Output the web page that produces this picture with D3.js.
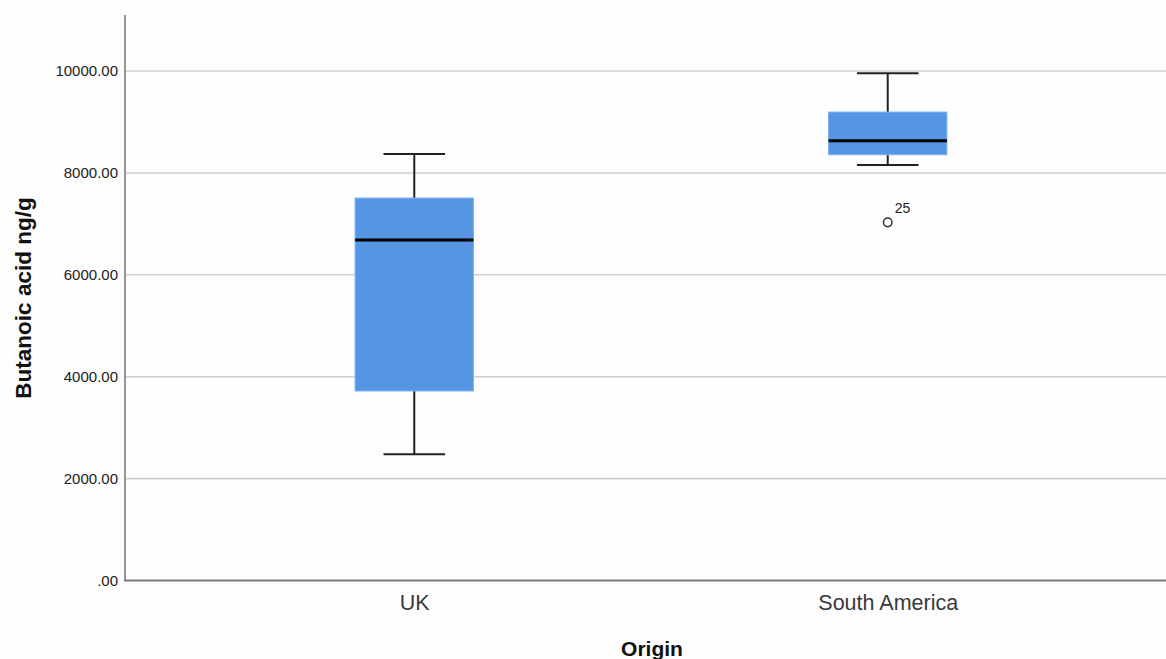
<!DOCTYPE html>
<html>
<head>
<meta charset="utf-8">
<script src="https://cdn.jsdelivr.net/npm/d3@7"></script>
<style>
  html, body { margin: 0; padding: 0; background: #fdfdfd; }
  svg { display: block; }
</style>
</head>
<body>
<svg id="chart" width="1166" height="659"></svg>
<script>
// Butanoic acid concentration by origin — box summary per group
const categories = ["UK", "South America"];
const whiskerLow  = [2480, 8155];
const quartile1   = [3720, 8357];
const medians     = [6683, 8632];
const quartile3   = [7507, 9195];
const whiskerHigh = [8371, 9955];
const outliers    = [{ group: "South America", value: 7030, label: "25" }];
const yTicks      = [0, 2000, 4000, 6000, 8000, 10000];

const svg = d3.select("#chart");
const plotLeft = 125, plotTop = 15, plotBottom = 580.5, plotRight = 1177;
const font = "Liberation Sans, Arial, sans-serif";

const y = d3.scaleLinear().domain([0, 11100]).range([plotBottom, plotTop]);
const x = d3.scalePoint().domain(categories).range([plotLeft, plotRight]).padding(0.611);
const step = x.step();
const boxW = step * 0.25;
const capW = step * 0.13;

// gridlines
svg.append("g")
  .selectAll("line")
  .data(yTicks.filter(d => d > 0))
  .join("line")
  .attr("x1", plotLeft).attr("x2", 1166)
  .attr("y1", d => y(d)).attr("y2", d => y(d))
  .attr("stroke", "#cfcfcf").attr("stroke-width", 1.6);

// y axis
const yAxis = d3.axisLeft(y).tickValues(yTicks).tickSize(0).tickPadding(7)
  .tickFormat(d => d === 0 ? ".00" : d3.format(".2f")(d));
const gy = svg.append("g").attr("transform", `translate(${plotLeft},0)`).call(yAxis);
gy.select(".domain").remove();
gy.selectAll("text")
  .attr("font-family", font)
  .attr("font-size", 15).attr("fill", "#222");

// axis lines
svg.append("line").attr("x1", plotLeft).attr("x2", plotLeft).attr("y1", plotTop).attr("y2", plotBottom)
  .attr("stroke", "#8a8a8a").attr("stroke-width", 1.8);
svg.append("line").attr("x1", plotLeft - 1).attr("x2", 1166).attr("y1", plotBottom).attr("y2", plotBottom)
  .attr("stroke", "#7a7a7a").attr("stroke-width", 1.8);

// x axis labels
const xAxis = d3.axisBottom(x).tickSize(0).tickPadding(14);
const gx = svg.append("g").attr("transform", `translate(0,${plotBottom})`).call(xAxis);
gx.select(".domain").remove();
gx.selectAll("text")
  .attr("font-family", font)
  .attr("font-size", 21.5).attr("fill", "#3a3a3a").attr("font-weight", 300);

// boxes
const groups = svg.append("g").selectAll("g")
  .data(categories.map((c, i) => ({
    c, lo: whiskerLow[i], q1: quartile1[i], med: medians[i], q3: quartile3[i], hi: whiskerHigh[i]
  })))
  .join("g");

groups.append("line")
  .attr("x1", d => x(d.c)).attr("x2", d => x(d.c))
  .attr("y1", d => y(d.hi)).attr("y2", d => y(d.q3))
  .attr("stroke", "#222").attr("stroke-width", 2);
groups.append("line")
  .attr("x1", d => x(d.c)).attr("x2", d => x(d.c))
  .attr("y1", d => y(d.q1)).attr("y2", d => y(d.lo))
  .attr("stroke", "#222").attr("stroke-width", 2);
groups.selectAll(".cap")
  .data(d => [{ c: d.c, v: d.hi }, { c: d.c, v: d.lo }])
  .join("line")
  .attr("x1", d => x(d.c) - capW / 2).attr("x2", d => x(d.c) + capW / 2)
  .attr("y1", d => y(d.v)).attr("y2", d => y(d.v))
  .attr("stroke", "#222").attr("stroke-width", 2);
groups.append("rect")
  .attr("x", d => x(d.c) - boxW / 2).attr("width", boxW)
  .attr("y", d => y(d.q3)).attr("height", d => y(d.q1) - y(d.q3))
  .attr("fill", "#5495e4").attr("stroke", "#7fb0ee").attr("stroke-width", 1);
groups.append("line")
  .attr("x1", d => x(d.c) - boxW / 2).attr("x2", d => x(d.c) + boxW / 2)
  .attr("y1", d => y(d.med)).attr("y2", d => y(d.med))
  .attr("stroke", "#000").attr("stroke-width", 3);

// outliers
const out = svg.append("g").selectAll("g").data(outliers).join("g");
out.append("circle")
  .attr("cx", d => x(d.group)).attr("cy", d => y(d.value)).attr("r", 4.3)
  .attr("fill", "none").attr("stroke", "#333").attr("stroke-width", 1.5);
out.append("text")
  .attr("x", d => x(d.group) + 7).attr("y", d => y(d.value) - 9)
  .attr("font-family", font)
  .attr("font-size", 14).attr("fill", "#222")
  .text(d => d.label);

// axis titles
svg.append("text")
  .attr("transform", `translate(31,298) rotate(-90)`)
  .attr("text-anchor", "middle")
  .attr("font-family", font)
  .attr("font-size", 22.5).attr("font-weight", "bold").attr("fill", "#111")
  .text("Butanoic acid ng/g");
svg.append("text")
  .attr("x", 652).attr("y", 656)
  .attr("text-anchor", "middle")
  .attr("font-family", font)
  .attr("font-size", 21).attr("font-weight", "bold").attr("fill", "#111")
  .text("Origin");
</script>
</body>
</html>
